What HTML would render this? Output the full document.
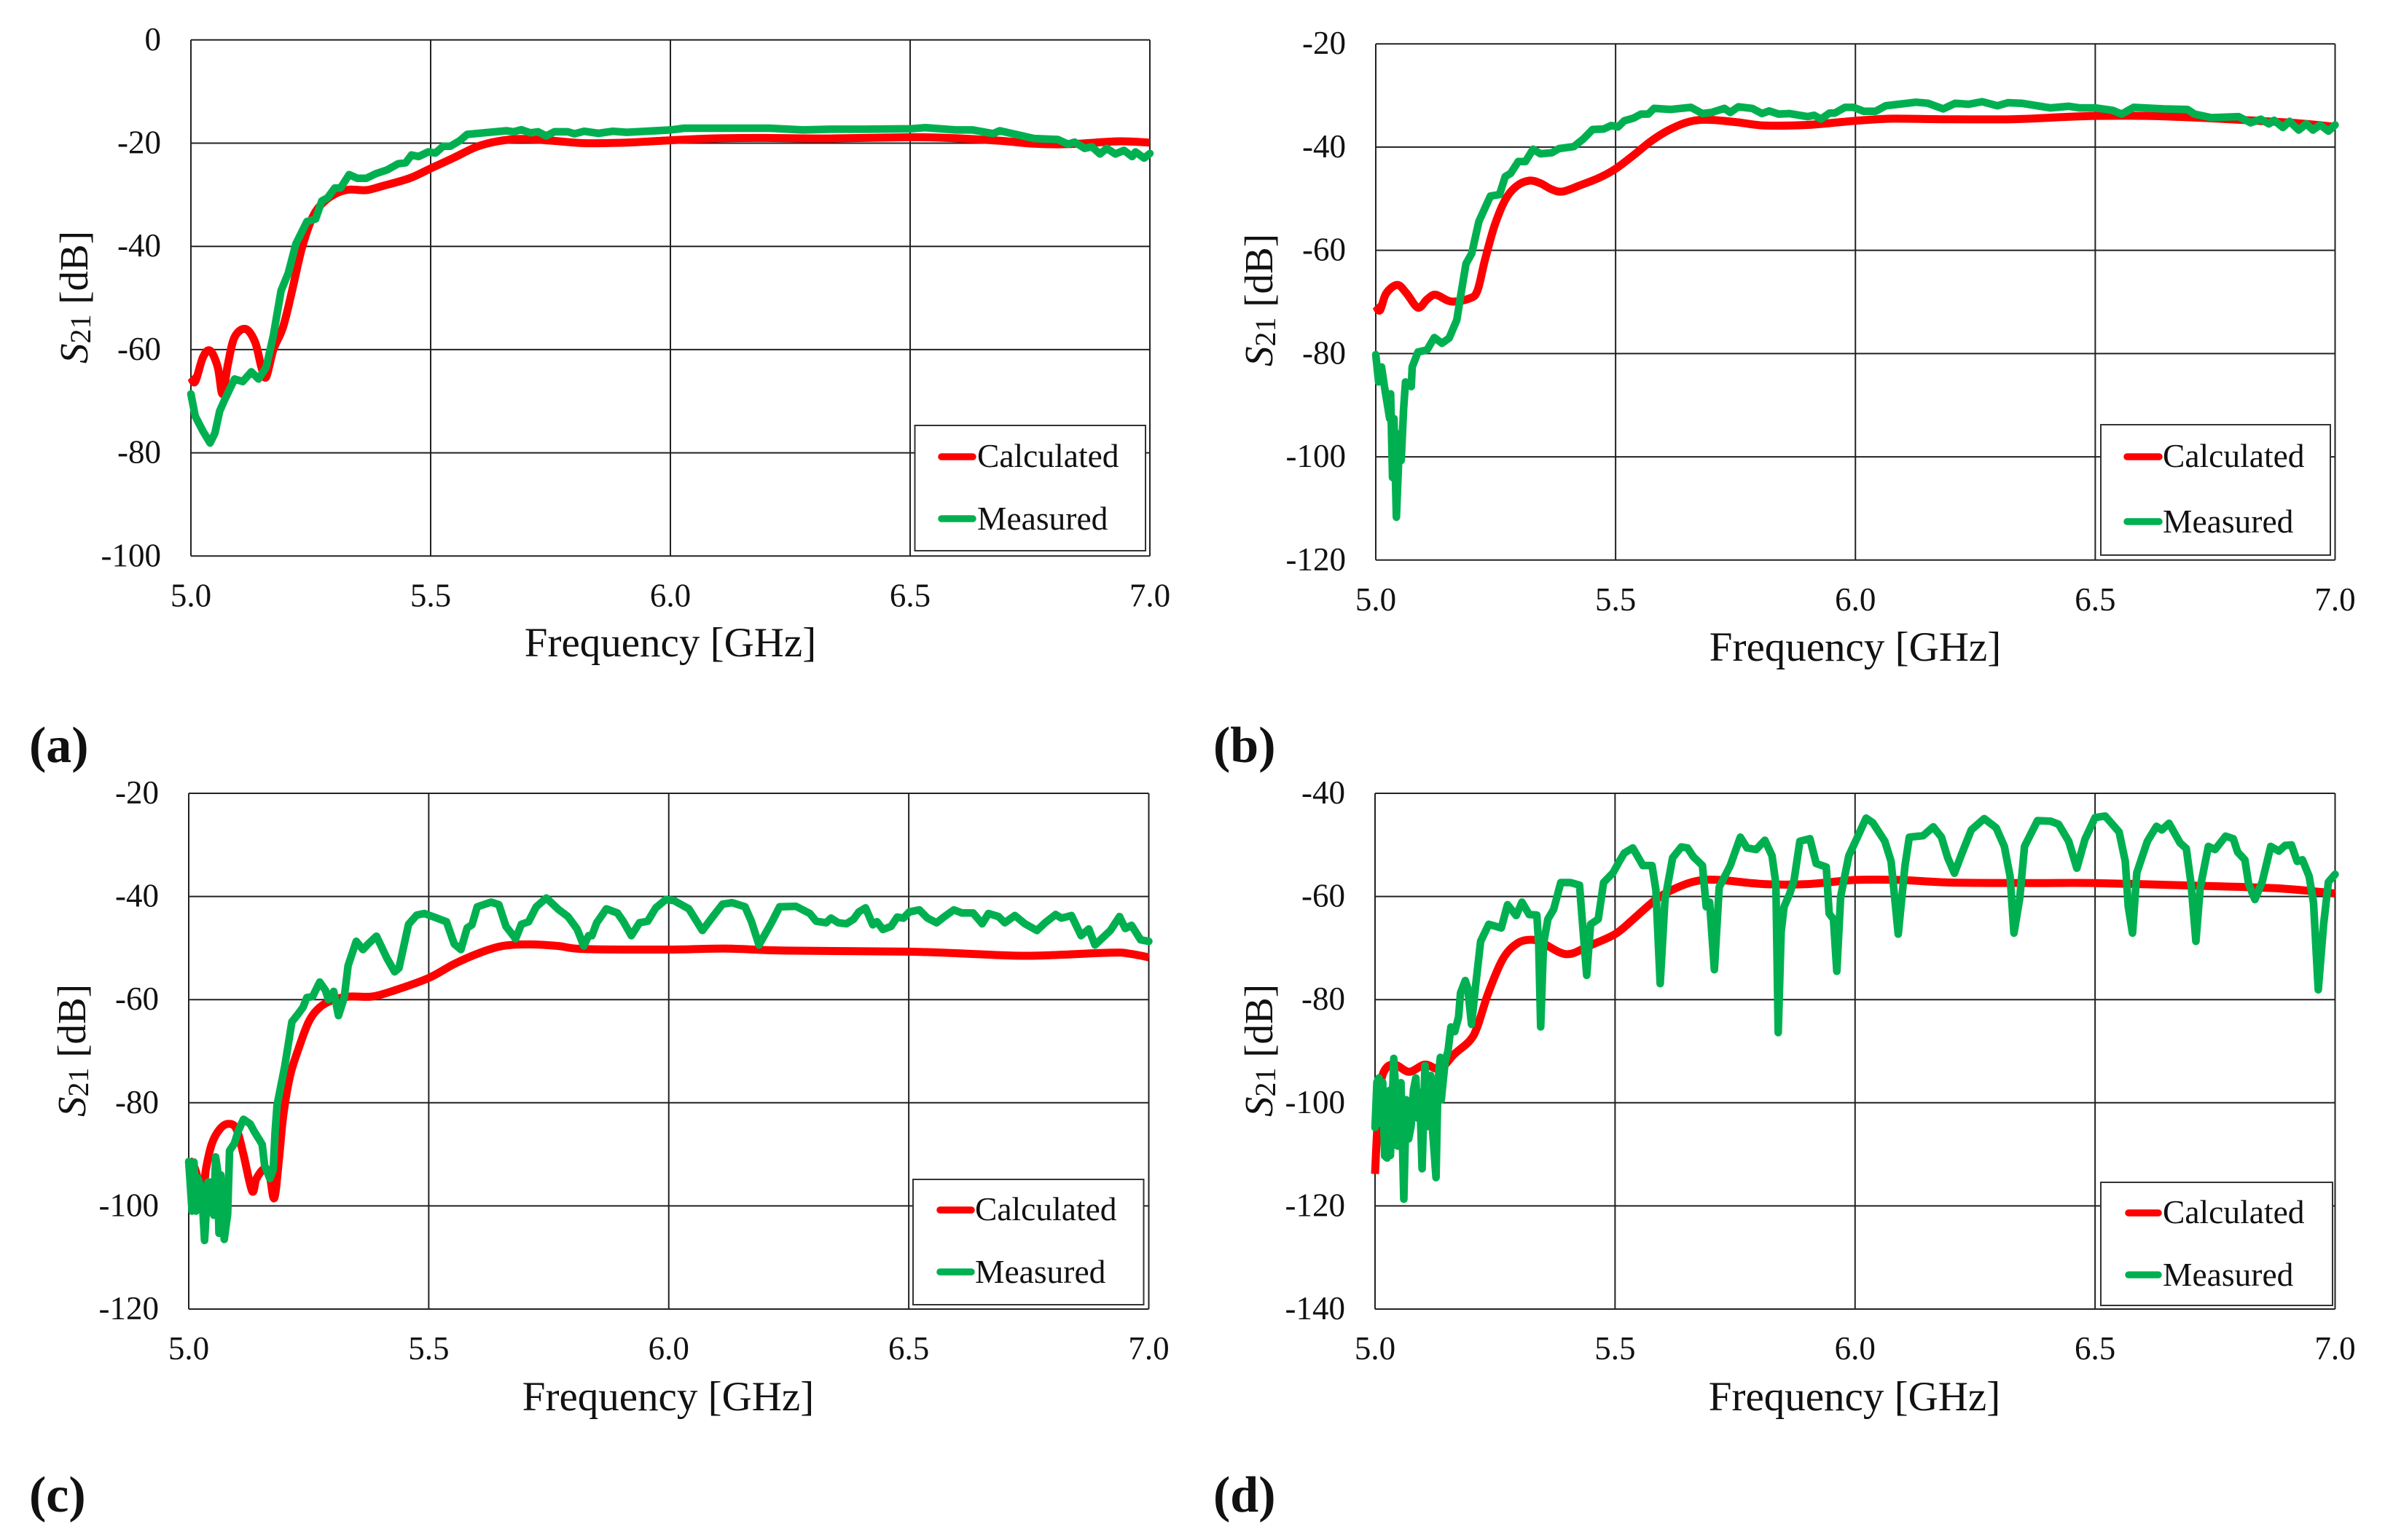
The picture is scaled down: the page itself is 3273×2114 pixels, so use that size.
<!DOCTYPE html>
<html lang="en">
<head>
<meta charset="utf-8">
<title>S21 frequency response panels</title>
<style>
html,body{margin:0;padding:0;background:#fff;}
svg{display:block;}
text{font-family:"Liberation Serif",serif;fill:#111;}
.tick{font-size:45px;}
.xt{font-size:57px;}
.yt{font-size:55px;}
.lg{font-size:45.5px;}
.pl{font-size:70px;font-weight:bold;}
</style>
</head>
<body>
<svg id="fig" xmlns="http://www.w3.org/2000/svg" width="3273" height="2114" viewBox="0 0 3273 2114">
<rect x="0" y="0" width="3273" height="2114" fill="#fff"/>
<g id="plots"></g>

<g>
<text class="xt" x="920" y="901" text-anchor="middle">Frequency [GHz]</text>
<text class="yt" transform="translate(120 408) rotate(-90)" text-anchor="middle"><tspan font-style="italic">S</tspan><tspan font-size="40" dy="4">21</tspan><tspan dy="-4"> [dB]</tspan></text>
<text class="pl" x="40" y="1046">(a)</text>
</g>
<g>
<text class="xt" x="2546" y="907" text-anchor="middle">Frequency [GHz]</text>
<text class="yt" transform="translate(1746 412) rotate(-90)" text-anchor="middle"><tspan font-style="italic">S</tspan><tspan font-size="40" dy="4">21</tspan><tspan dy="-4"> [dB]</tspan></text>
<text class="pl" x="1665" y="1046">(b)</text>
</g>
<g>
<text class="xt" x="917" y="1936" text-anchor="middle">Frequency [GHz]</text>
<text class="yt" transform="translate(117 1442) rotate(-90)" text-anchor="middle"><tspan font-style="italic">S</tspan><tspan font-size="40" dy="4">21</tspan><tspan dy="-4"> [dB]</tspan></text>
<text class="pl" x="40" y="2075">(c)</text>
</g>
<g>
<text class="xt" x="2545" y="1936" text-anchor="middle">Frequency [GHz]</text>
<text class="yt" transform="translate(1746 1442) rotate(-90)" text-anchor="middle"><tspan font-style="italic">S</tspan><tspan font-size="40" dy="4">21</tspan><tspan dy="-4"> [dB]</tspan></text>
<text class="pl" x="1665" y="2075">(d)</text>
</g>

<g>
<rect x="1255.5" y="584" width="316.5" height="172" fill="#fff" stroke="#333" stroke-width="2"/>
<line x1="1292" y1="627" x2="1335" y2="627" stroke="#ff0000" stroke-width="9.5" stroke-linecap="round"/>
<text class="lg" x="1341" y="641">Calculated</text>
<line x1="1292" y1="712" x2="1335" y2="712" stroke="#00b050" stroke-width="9.5" stroke-linecap="round"/>
<text class="lg" x="1341" y="727">Measured</text>
</g>
<g>
<rect x="2883" y="583" width="315" height="179" fill="#fff" stroke="#333" stroke-width="2"/>
<line x1="2919" y1="627" x2="2963" y2="627" stroke="#ff0000" stroke-width="9.5" stroke-linecap="round"/>
<text class="lg" x="2968" y="641">Calculated</text>
<line x1="2919" y1="716" x2="2963" y2="716" stroke="#00b050" stroke-width="9.5" stroke-linecap="round"/>
<text class="lg" x="2968" y="731">Measured</text>
</g>
<g>
<rect x="1253" y="1619" width="316.5" height="172" fill="#fff" stroke="#333" stroke-width="2"/>
<line x1="1290" y1="1661" x2="1333" y2="1661" stroke="#ff0000" stroke-width="9.5" stroke-linecap="round"/>
<text class="lg" x="1338" y="1675">Calculated</text>
<line x1="1290" y1="1746" x2="1333" y2="1746" stroke="#00b050" stroke-width="9.5" stroke-linecap="round"/>
<text class="lg" x="1338" y="1761">Measured</text>
</g>
<g>
<rect x="2883" y="1623" width="318" height="169" fill="#fff" stroke="#333" stroke-width="2"/>
<line x1="2921" y1="1665" x2="2962" y2="1665" stroke="#ff0000" stroke-width="9.5" stroke-linecap="round"/>
<text class="lg" x="2968" y="1679">Calculated</text>
<line x1="2921" y1="1750" x2="2962" y2="1750" stroke="#00b050" stroke-width="9.5" stroke-linecap="round"/>
<text class="lg" x="2968" y="1765">Measured</text>
</g>
</svg>

<script>
var xTickLabels = ["5.0","5.5","6.0","6.5","7.0"];
var xTicks = [5,5.5,6,6.5,7];
var yTicksA = [0,-20,-40,-60,-80,-100];
var yTicksB = [-20,-40,-60,-80,-100,-120];
var yTicksC = [-20,-40,-60,-80,-100,-120];
var yTicksD = [-40,-60,-80,-100,-120,-140];

var calcFreqA = [5,5.009,5.025,5.04,5.056,5.066,5.077,5.091,5.114,5.134,5.147,5.157,5.172,5.192,5.211,5.231,5.254,5.277,5.304,5.33,5.366,5.4,5.456,5.5,5.549,5.596,5.642,5.689,5.75,5.82,5.909,6,6.086,6.192,6.334,6.5,6.58,6.688,6.758,6.83,6.935,7];
var calcDbA = [-65.3,-66.2,-61.5,-60.2,-63.4,-68.6,-62.9,-57.6,-56,-58.6,-63.4,-65.3,-60,-55.7,-48.6,-40.5,-34.3,-31.4,-29.7,-29,-29.1,-28.3,-26.8,-24.9,-22.8,-20.7,-19.6,-19.2,-19.5,-20,-19.9,-19.45,-19.1,-19,-19.1,-18.85,-19,-19.55,-20.1,-20.2,-19.65,-19.9];
var measFreqA = [5,5.009,5.025,5.04,5.05,5.06,5.071,5.091,5.108,5.126,5.141,5.157,5.172,5.188,5.203,5.219,5.242,5.26,5.273,5.285,5.3,5.312,5.33,5.347,5.366,5.386,5.409,5.432,5.448,5.46,5.475,5.495,5.51,5.526,5.541,5.561,5.576,5.611,5.658,5.673,5.689,5.708,5.724,5.741,5.758,5.786,5.8,5.82,5.85,5.88,5.909,6,6.029,6.206,6.277,6.334,6.404,6.503,6.532,6.595,6.631,6.673,6.687,6.758,6.808,6.829,6.843,6.864,6.879,6.896,6.91,6.928,6.946,6.963,6.97,6.988,7];
var measDbA = [-68.6,-72.9,-75.8,-78.1,-76.2,-71.9,-69.6,-65.7,-66.2,-64.3,-65.7,-63.4,-57.2,-48.6,-45.2,-39.5,-35.2,-34.7,-31.2,-30.6,-28.7,-28.7,-26.1,-26.8,-26.8,-25.9,-25.2,-24,-23.8,-22.3,-22.6,-21.7,-21.9,-20.6,-20.6,-19.5,-18.3,-18,-17.6,-17.8,-17.4,-18,-17.8,-18.6,-17.8,-17.8,-18.2,-17.7,-18.1,-17.7,-17.9,-17.44,-17.1,-17.1,-17.44,-17.3,-17.3,-17.2,-17,-17.44,-17.44,-18.15,-17.6,-19.1,-19.3,-20.2,-19.8,-21,-20.7,-22.1,-21,-22.1,-21.4,-22.6,-21.7,-22.9,-22];

var calcFreqB = [5,5.009,5.022,5.045,5.064,5.088,5.107,5.125,5.157,5.196,5.212,5.227,5.247,5.27,5.293,5.32,5.343,5.367,5.39,5.429,5.467,5.5,5.537,5.576,5.615,5.653,5.692,5.754,5.809,5.9,6,6.077,6.183,6.325,6.43,6.5,6.608,6.714,6.82,6.926,7];
var calcDbB = [-70.7,-71.6,-68.3,-66.7,-68.3,-71.1,-69.5,-68.6,-69.9,-69.3,-67.8,-62.1,-55.4,-50.2,-47.6,-46.5,-47,-48.2,-48.6,-47.3,-45.9,-44.2,-41.6,-38.7,-36.5,-35.1,-34.7,-35.2,-35.8,-35.7,-34.9,-34.5,-34.6,-34.6,-34.2,-33.96,-33.96,-34.3,-34.8,-35.4,-36.07];
var measFreqB = [5,5.006,5.012,5.019,5.029,5.031,5.035,5.038,5.043,5.05,5.053,5.058,5.062,5.074,5.076,5.088,5.107,5.122,5.138,5.153,5.169,5.177,5.188,5.2,5.215,5.239,5.258,5.27,5.281,5.297,5.312,5.328,5.343,5.367,5.382,5.413,5.433,5.452,5.475,5.491,5.505,5.518,5.537,5.553,5.568,5.58,5.615,5.657,5.681,5.7,5.727,5.739,5.756,5.785,5.805,5.82,5.84,5.863,5.9,5.914,5.928,5.946,5.957,5.978,5.996,6.017,6.042,6.063,6.09,6.126,6.151,6.183,6.208,6.236,6.264,6.296,6.318,6.346,6.406,6.445,6.467,6.5,6.537,6.555,6.58,6.643,6.692,6.707,6.742,6.799,6.824,6.845,6.862,6.873,6.891,6.905,6.924,6.94,6.954,6.969,6.986,7];
var measDbB = [-80.2,-85.5,-82.6,-86.9,-92.6,-87.8,-104,-92.6,-111.7,-95.5,-100.7,-90.7,-85.5,-86.4,-82.6,-79.7,-79.3,-76.9,-78,-77,-73.5,-68.8,-62.6,-60.6,-54.4,-49.5,-49.2,-45.7,-45.1,-42.8,-42.8,-40.4,-41.3,-41.1,-40.3,-39.9,-38.4,-36.6,-36.5,-35.8,-36.1,-34.9,-34.4,-33.6,-33.6,-32.5,-32.7,-32.3,-33.5,-33.3,-32.5,-33.3,-32.2,-32.5,-33.5,-33,-33.6,-33.5,-34.1,-33.85,-34.56,-33.4,-33.4,-32.3,-32.3,-33.05,-33.05,-32,-31.7,-31.3,-31.5,-32.6,-31.5,-31.7,-31.2,-32,-31.4,-31.5,-32.4,-32.1,-32.4,-32.4,-32.9,-33.6,-32.3,-32.6,-32.7,-33.6,-34.3,-34.1,-35.3,-34.6,-35.5,-34.8,-36.2,-35,-36.7,-35.5,-36.7,-35.7,-36.9,-35.7];

var calcFreqC = [5,5.013,5.029,5.036,5.048,5.064,5.081,5.099,5.114,5.132,5.141,5.157,5.168,5.178,5.188,5.197,5.211,5.227,5.25,5.273,5.3,5.335,5.382,5.429,5.5,5.553,5.607,5.654,5.708,5.77,5.823,6,6.117,6.243,6.5,6.623,6.75,6.92,6.96,7];
var calcDbC = [-91,-92.8,-97.6,-92.8,-88,-85.2,-84.1,-85,-90,-97.1,-94.7,-92.8,-93.8,-98.5,-91,-82.4,-74.8,-70,-64.3,-61.5,-60.1,-59.4,-59.4,-58.2,-55.8,-53.1,-50.9,-49.6,-49.3,-49.6,-50.2,-50.3,-50.1,-50.5,-50.7,-51.1,-51.5,-50.9,-51.1,-51.8];
var measFreqC = [5,5.007,5.011,5.015,5.018,5.022,5.027,5.033,5.04,5.047,5.052,5.056,5.06,5.063,5.067,5.074,5.081,5.085,5.095,5.103,5.114,5.128,5.136,5.146,5.153,5.158,5.169,5.176,5.18,5.184,5.2,5.215,5.227,5.238,5.246,5.258,5.273,5.285,5.291,5.302,5.312,5.324,5.332,5.349,5.363,5.374,5.391,5.413,5.429,5.438,5.458,5.475,5.491,5.514,5.537,5.553,5.567,5.58,5.59,5.601,5.63,5.646,5.661,5.681,5.693,5.708,5.724,5.745,5.77,5.79,5.809,5.823,5.833,5.84,5.85,5.87,5.893,5.905,5.922,5.939,5.956,5.973,5.994,6.011,6.042,6.07,6.091,6.112,6.132,6.159,6.172,6.188,6.214,6.231,6.265,6.294,6.307,6.328,6.338,6.353,6.37,6.385,6.396,6.41,6.425,6.434,6.446,6.463,6.476,6.489,6.501,6.522,6.539,6.558,6.573,6.594,6.611,6.634,6.653,6.666,6.687,6.7,6.721,6.742,6.767,6.784,6.806,6.818,6.839,6.859,6.875,6.888,6.92,6.939,6.951,6.964,6.983,7];
var measDbC = [-91.4,-101,-91.5,-101,-94.5,-95.4,-96.8,-106.7,-95.4,-95.4,-101.8,-90.5,-93,-105.3,-94,-106.5,-101.6,-89.3,-87.9,-85.5,-83.2,-84.1,-85.5,-87,-88.1,-92.1,-94.7,-93,-85.5,-80.5,-72.9,-64.3,-62.9,-61.5,-59.6,-59.4,-56.6,-58.2,-60,-58.4,-63.1,-59.6,-53.4,-48.7,-50.3,-49.2,-47.7,-52,-54.6,-53.9,-45.4,-43.6,-43.3,-44.1,-44.9,-49.2,-50.3,-46.1,-45.5,-42,-41.1,-41.6,-45.8,-48.2,-45.4,-44.9,-42,-40.3,-42.5,-43.9,-46.3,-49.6,-47.6,-47.6,-45.1,-42.4,-43.2,-44.8,-47.6,-45.1,-44.8,-42.2,-40.6,-40.8,-42.4,-46.6,-44,-41.5,-41.2,-42,-44.8,-49.4,-45.1,-42,-41.9,-43.3,-44.8,-45.1,-44.2,-45.1,-45.3,-44.4,-43,-42.2,-45.5,-44.9,-46.4,-45.8,-44,-44.2,-43,-42.6,-44.2,-45.1,-44,-42.6,-43.2,-43.2,-45.3,-43.3,-43.9,-45.1,-43.7,-45.3,-46.6,-45.1,-43.5,-44.2,-43.7,-47.6,-46.3,-49.4,-46.6,-43.9,-46.2,-45.6,-48.4,-48.7];

var calcFreqD = [5,5.005,5.011,5.022,5.042,5.071,5.104,5.135,5.166,5.197,5.213,5.236,5.267,5.298,5.329,5.352,5.399,5.445,5.5,5.538,5.585,5.624,5.67,5.717,5.81,5.901,6,6.092,6.2,6.37,6.5,6.706,6.875,7];
var calcDbD = [-113.8,-104.3,-96.7,-93.4,-92.6,-94,-92.6,-93.4,-90.5,-88,-85.3,-78.7,-72,-69,-68.4,-69.2,-71.2,-69.6,-67.3,-64.4,-60.6,-58.5,-57,-56.8,-57.6,-57.6,-56.8,-56.8,-57.3,-57.4,-57.4,-57.9,-58.4,-59.4];
var measFreqD = [5,5.004,5.008,5.012,5.016,5.02,5.025,5.03,5.032,5.039,5.042,5.047,5.054,5.06,5.065,5.07,5.075,5.08,5.085,5.089,5.093,5.098,5.104,5.11,5.116,5.12,5.127,5.131,5.136,5.138,5.146,5.152,5.158,5.166,5.174,5.178,5.188,5.193,5.201,5.209,5.22,5.237,5.263,5.276,5.294,5.306,5.321,5.337,5.341,5.345,5.351,5.36,5.372,5.387,5.407,5.426,5.434,5.441,5.449,5.465,5.476,5.496,5.507,5.519,5.537,5.558,5.577,5.585,5.594,5.604,5.62,5.638,5.651,5.663,5.682,5.69,5.697,5.707,5.717,5.74,5.761,5.775,5.794,5.812,5.827,5.835,5.84,5.846,5.852,5.864,5.873,5.885,5.906,5.919,5.94,5.946,5.955,5.962,5.97,5.987,6.001,6.023,6.037,6.062,6.075,6.09,6.104,6.113,6.142,6.163,6.18,6.193,6.207,6.222,6.242,6.269,6.294,6.311,6.323,6.331,6.343,6.353,6.38,6.407,6.424,6.445,6.462,6.479,6.5,6.521,6.55,6.563,6.569,6.578,6.587,6.609,6.628,6.639,6.654,6.677,6.69,6.7,6.71,6.719,6.736,6.75,6.772,6.788,6.797,6.812,6.82,6.833,6.848,6.866,6.883,6.896,6.909,6.921,6.932,6.946,6.955,6.965,6.976,6.986,7];
var measDbD = [-104.8,-96,-95.2,-104,-96,-110.3,-110.7,-97.6,-110.2,-91.4,-96.1,-108.4,-96.1,-118.7,-99.4,-107,-104.6,-97.6,-95.2,-103,-98,-112.8,-92.8,-104.6,-94.7,-105.6,-114.5,-96.1,-91.2,-99.4,-92,-90,-85.3,-86.2,-83.4,-78.7,-76.3,-77.7,-84.8,-77.7,-68.7,-65.4,-66.1,-61.6,-63.7,-61.1,-63.5,-63.6,-69.2,-85.3,-69.2,-64.4,-62.5,-57.3,-57.3,-57.8,-67.3,-75.3,-65.4,-64.4,-57.3,-55.4,-53.5,-51.6,-50.6,-54,-54,-58.7,-76.9,-60.6,-52.5,-50.4,-50.6,-52.3,-54,-62,-61.1,-74.2,-58.2,-54,-48.5,-50.6,-50.9,-49.1,-52.1,-57.6,-86.4,-66.9,-62,-59.4,-56.8,-49.3,-48.8,-53.6,-54.3,-63.3,-64.4,-74.5,-60,-52.1,-49.3,-44.8,-45.7,-49.3,-53.2,-67.3,-54,-48.5,-48.2,-46.5,-48.5,-52.5,-55.5,-51.8,-47.1,-44.9,-46.7,-50.3,-56.1,-67.1,-60.4,-50.3,-45.3,-45.4,-46,-49.3,-54.5,-48.9,-44.7,-44.4,-47.5,-53.2,-61.9,-67.1,-55.4,-49.3,-46.4,-47.1,-45.8,-49.6,-50.7,-57.6,-68.7,-58.3,-50.3,-50.9,-48.3,-48.8,-51.4,-52.9,-57.6,-60.6,-57.2,-50.3,-51.2,-50.1,-50,-53.2,-52.9,-56.1,-61.2,-78.1,-65.5,-57.2,-55.7];

var NS = "http://www.w3.org/2000/svg";
var root = document.getElementById("plots");

function svgEl(tag, attrs, parent) {
  var el = document.createElementNS(NS, tag);
  for (var k in attrs) { el.setAttribute(k, attrs[k]); }
  parent.appendChild(el);
  return el;
}

function polyPath(px, py) {
  var d = "M" + px[0].toFixed(1) + " " + py[0].toFixed(1);
  for (var i = 1; i < px.length; i++) {
    d += "L" + px[i].toFixed(1) + " " + py[i].toFixed(1);
  }
  return d;
}

function smoothPath(px, py) {
  var d = "M" + px[0].toFixed(1) + " " + py[0].toFixed(1);
  var n = px.length;
  for (var i = 0; i < n - 1; i++) {
    var i0 = Math.max(i - 1, 0), i3 = Math.min(i + 2, n - 1);
    var c1x = px[i] + (px[i + 1] - px[i0]) / 6, c1y = py[i] + (py[i + 1] - py[i0]) / 6;
    var c2x = px[i + 1] - (px[i3] - px[i]) / 6, c2y = py[i + 1] - (py[i3] - py[i]) / 6;
    d += "C" + c1x.toFixed(1) + " " + c1y.toFixed(1) + " " + c2x.toFixed(1) + " " + c2y.toFixed(1) + " " + px[i + 1].toFixed(1) + " " + py[i + 1].toFixed(1);
  }
  return d;
}

function drawPanel(id, left, right, top, bottom, yTicks, calcF, calcD, measF, measD) {
  var yMax = yTicks[0], yMin = yTicks[yTicks.length - 1];
  var xMin = xTicks[0], xMax = xTicks[xTicks.length - 1];
  function sx(v) { return left + (v - xMin) / (xMax - xMin) * (right - left); }
  function sy(v) { return top + (yMax - v) / (yMax - yMin) * (bottom - top); }

  var g = svgEl("g", {}, root);
  
  

  yTicks.forEach(function (t) {
    var l = svgEl("line", {x1: left, x2: right, y1: sy(t), y2: sy(t), stroke: "#222", "stroke-width": 2}, g);
    
    
    var lab = svgEl("text", {x: left - 41, y: sy(t) + 14, "text-anchor": "end", "class": "tick"}, g);
    
    
    lab.textContent = String(t);
  });
  xTicks.forEach(function (t, i) {
    var l = svgEl("line", {x1: sx(t), x2: sx(t), y1: top, y2: bottom, stroke: "#222", "stroke-width": 2}, g);
    
    
    var lab = svgEl("text", {x: sx(t), y: bottom + 69, "text-anchor": "middle", "class": "tick"}, g);
    
    
    lab.textContent = xTickLabels[i];
  });

  var red = svgEl("path", {d: smoothPath(calcF.map(sx), calcD.map(sy)), fill: "none", stroke: "#ff0000", "stroke-width": 11, "stroke-linejoin": "round"}, g);
  
  
  var green = svgEl("path", {d: polyPath(measF.map(sx), measD.map(sy)), fill: "none", stroke: "#00b050", "stroke-width": 10.5, "stroke-linejoin": "round", "stroke-linecap": "round"}, g);
  
  
}

drawPanel("a", 262, 1578, 54.8, 763.3, yTicksA, calcFreqA, calcDbA, measFreqA, measDbA);
drawPanel("b", 1888, 3204.5, 60.2, 768.8, yTicksB, calcFreqB, calcDbB, measFreqB, measDbB);
drawPanel("c", 259, 1576.5, 1089, 1797, yTicksC, calcFreqC, calcDbC, measFreqC, measDbC);
drawPanel("d", 1887, 3204.5, 1089, 1797, yTicksD, calcFreqD, calcDbD, measFreqD, measDbD);
</script>
</body>
</html>
